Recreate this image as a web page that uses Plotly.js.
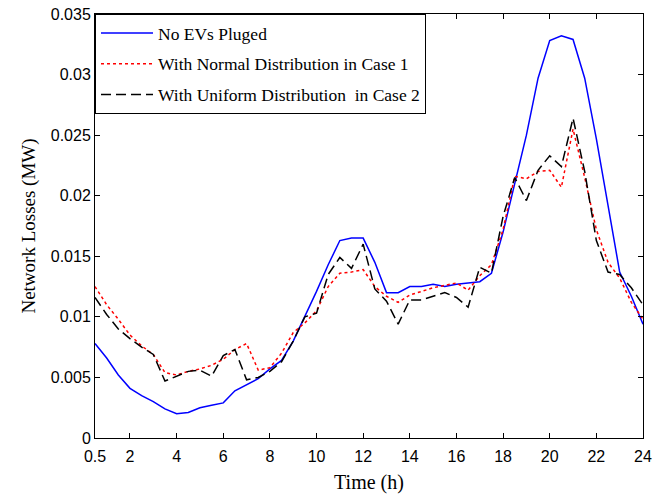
<!DOCTYPE html>
<html>
<head>
<meta charset="utf-8">
<script src="https://cdn.plot.ly/plotly-3.0.1.min.js"></script>
<style>html,body{margin:0;padding:0;background:#fff;}#chart{width:662px;height:498px;}</style>
</head>
<body>
<div id="chart"></div>
<script>
var hours = [0.5,1,1.5,2,2.5,3,3.5,4,4.5,5,5.5,6,6.5,7,7.5,8,8.5,9,9.5,10,10.5,11,11.5,12,
             12.5,13,13.5,14,14.5,15,15.5,16,16.5,17,17.5,18,18.5,19,19.5,20,20.5,21,21.5,22,22.5,23,23.5,24];
var noEV = [0.0078,0.0066,0.0052,0.0041,0.0035,0.0030,0.0024,0.0020,0.0021,0.0025,0.0027,0.0029,
            0.0039,0.0044,0.0049,0.0057,0.0064,0.0080,0.0100,0.0121,0.0143,0.0163,0.0165,0.0165,
            0.0145,0.0120,0.0120,0.0125,0.0125,0.0127,0.0125,0.0127,0.0128,0.0129,0.0136,0.0170,
            0.0210,0.0250,0.0297,0.0328,0.0332,0.0329,0.0297,0.0247,0.0192,0.0137,0.0117,0.0094];
var normalCase1 = [0.0125,0.0110,0.0098,0.0085,0.0076,0.0069,0.0054,0.0052,0.0055,0.0057,0.0060,0.0065,
            0.0073,0.0078,0.0056,0.0058,0.0070,0.0087,0.0095,0.0105,0.0125,0.0136,0.0137,0.0139,
            0.0125,0.0117,0.0112,0.0118,0.0121,0.0124,0.0126,0.0128,0.0122,0.0134,0.0143,0.0172,
            0.0216,0.0214,0.0220,0.0221,0.0207,0.0255,0.0215,0.0172,0.0145,0.0132,0.0112,0.0098];
var uniformCase2 = [0.0116,0.0102,0.0090,0.0082,0.0075,0.0069,0.0047,0.0051,0.0055,0.0056,0.0051,0.0068,
            0.0073,0.0048,0.0050,0.0055,0.0063,0.0080,0.0100,0.0103,0.0135,0.0149,0.0140,0.0160,
            0.0123,0.0113,0.0094,0.0114,0.0114,0.0117,0.0120,0.0116,0.0108,0.0141,0.0136,0.0183,
            0.0215,0.0196,0.0221,0.0233,0.0224,0.0264,0.0220,0.0163,0.0137,0.0135,0.0124,0.0110];
var seriesNames = ["No EVs Pluged","With Normal Distribution in Case 1","With Uniform Distribution&nbsp; in Case 2"];
var xTickVals = [0.5,2,4,6,8,10,12,14,16,18,20,22,24];
var xTickText = ["0.5","2","4","6","8","10","12","14","16","18","20","22","24"];
var yTickVals = [0,0.005,0.01,0.015,0.02,0.025,0.03,0.035];
var yTickText = ["0","0.005","0.01","0.015","0.02","0.025","0.03","0.035"];

var traces = [
  {x: hours, y: noEV, name: seriesNames[0], mode: "lines", legendgroup: "a",
   line: {color: "#0000ff", width: 1.5}},
  {x: hours, y: normalCase1, name: seriesNames[1], mode: "lines", legendgroup: "b",
   line: {color: "#ff0000", width: 1.5, dash: "dot"}},
  {x: hours, y: uniformCase2, name: seriesNames[2], mode: "lines", legendgroup: "c",
   line: {color: "#000000", width: 1.5, dash: "10px,5px"}}
];
var axisCommon = {showline: true, linecolor: "#000", linewidth: 1, mirror: "ticks",
  ticks: "inside", ticklen: 5, tickcolor: "#000", showgrid: false, zeroline: false,
  tickfont: {family: "Liberation Sans, Arial, sans-serif", size: 16, color: "#000"}};
var layout = {
  width: 662, height: 498,
  margin: {l: 95, r: 19, t: 14, b: 60},
  paper_bgcolor: "#fff", plot_bgcolor: "#fff",
  showlegend: true,
  legend: {x: 0, y: 1, xanchor: "left", yanchor: "top", bgcolor: "#fff",
    bordercolor: "#000", borderwidth: 1, tracegroupgap: 5, itemwidth: 52,
    font: {family: "Liberation Serif, Times New Roman, serif", size: 17.5, color: "#000"}},
  xaxis: Object.assign({}, axisCommon, {range: [0.5, 24], tickmode: "array",
    tickvals: xTickVals, ticktext: xTickText, ticklabelstandoff: 4,
    title: {text: "Time (h)", standoff: 10, font: {family: "Liberation Serif, Times New Roman, serif", size: 20, color: "#000"}}}),
  yaxis: Object.assign({}, axisCommon, {range: [0, 0.035], tickmode: "array",
    tickvals: yTickVals, ticktext: yTickText,
    title: {text: "Network Losses (MW)", standoff: 10, font: {family: "Liberation Serif, Times New Roman, serif", size: 19, color: "#000"}}})
};
Plotly.newPlot("chart", traces, layout, {displayModeBar: false, staticPlot: true});
</script>
</body>
</html>
